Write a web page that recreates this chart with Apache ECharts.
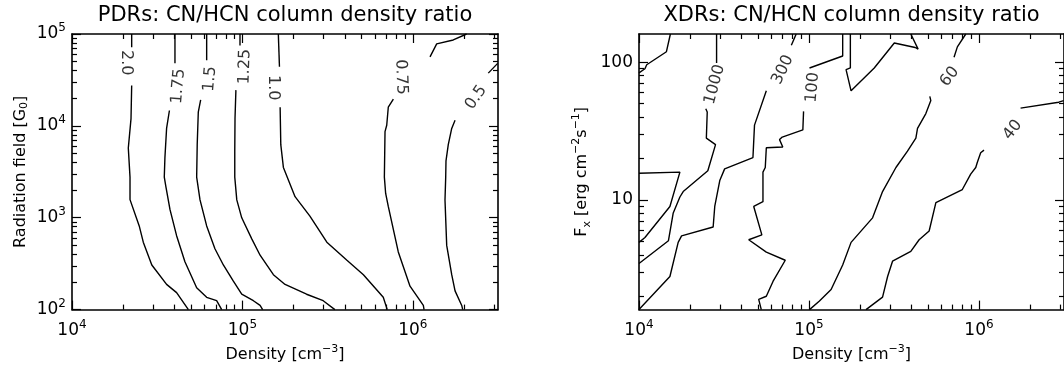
<!DOCTYPE html>
<html><head><meta charset="utf-8">
<script src="https://cdn.jsdelivr.net/npm/echarts@6/dist/echarts.min.js"></script>
<style>html,body{margin:0;padding:0;background:#fff}#c{width:1064px;height:368px}</style>
</head><body><div id="c"></div>
<script>
// ---------------- PDR panel: [density (cm^-3), radiation field (G0)] ----------------
const pdr_2_0_top  = [[22400,100000],[22400,71900]];
const pdr_2_0_bot  = [[22400,27500],[22200,12000],[21400,5750],[21900,2770],[21900,1575],[24800,815],[26200,542],[29400,306],[35900,188],[41100,153],[48200,100]];
const pdr_1_75_top = [[40200,100000],[40200,47900]];
const pdr_1_75_bot = [[37300,14700],[35900,9380],[35100,4510],[34800,2770],[35600,2160],[37600,1225],[41100,638],[46000,332],[53900,173],[61700,136],[70600,125],[75600,100]];
const pdr_1_5_top  = [[61700,100000],[61700,51900]];
const pdr_1_5_bot  = [[56900,19200],[55100,14100],[54300,6240],[53900,2770],[56400,1563],[61700,815],[69000,460],[77300,306],[88500,204],[99100,147],[116000,125],[127000,111],[131500,100]];
const pdr_1_25_top = [[96800,100000],[96800,75000]];
const pdr_1_25_bot = [[91600,24500],[90500,12000],[90200,5310],[90200,2770],[92700,1563],[99100,998],[113500,589],[127000,391],[152000,240],[178000,188],[238000,147],[298000,125],[349000,100]];
const pdr_1_0_top  = [[162500,100000],[165000,44100]];
const pdr_1_0_bot  = [[166500,15950],[168000,6240],[174000,3530],[203700,1695],[249000,1040],[313000,542],[409000,346],[513000,240],[671000,136],[708000,100]];
const pdr_0_75_bot = [[769000,19540],[718000,15950],[703000,10160],[687000,8650],[681000,2770],[693000,1837],[718000,1327],[822000,424],[963000,180],[1055000,141],[1153000,111],[1164000,100]];
const pdr_0_75_top = [[1262000,56300],[1381000,78100],[1728000,86100],[2070000,100000]];
const pdr_0_5_bot  = [[1770000,11500],[1692000,9380],[1615000,6240],[1566000,4160],[1560000,2770],[1545000,1563],[1581000,500],[1692000,240],[1770000,160],[1937000,111],[1963000,100]];
const pdr_0_5_top  = [[2773000,37500],[3148000,47900]];
const pdrLabelText = ['2.0','1.75','1.5','1.25','1.0','0.75','0.5'];
const pdrLabelAt   = [[20750,48600],[42100,27000],[64600,32400],[103500,44100],[151700,26000],[853000,34000],[2350000,20400]];

// ---------------- XDR panel: [density (cm^-3), F_X (erg cm^-2 s^-1)] ----------------
const xdr_a        = [[10000,83.5],[10840,89.6],[11100,95.7],[14500,119],[15300,160]];
const xdr_b        = [[10000,15.6],[17400,15.9],[15200,8.96],[10840,5.34],[10000,4.92]];
const xdr_1000_bot = [[10000,3.46],[14900,5.06],[15900,8.04],[17400,10.5],[18200,11.5],[25400,16.3],[28200,25.2],[24900,28.1],[25200,43.5],[24700,45.9]];
const xdr_1000_top = [[28600,98.4],[28600,160]];
const xdr_300_bot  = [[10000,1.6],[15200,2.78],[17000,4.92],[17800,5.49],[27300,6.36],[27900,8.97],[29900,13.9],[31900,16.8],[46800,20.3],[47800,34.9],[56100,61.9]];
const xdr_300_top  = [[78700,132.7],[84100,160]];
const xdr_100_bot  = [[52400,1.6],[50600,1.90],[56100,2.00],[61400,2.56],[72500,3.65],[56100,4.18],[44200,5.14],[52800,5.58],[47300,8.97],[53600,9.72],[53600,15.9],[55300,17.2],[56100,23.9],[70100,24.2],[67100,27.4],[69600,28.6],[92000,32.2],[92900,43.9]];
const xdr_100_top  = [[100700,90.7],[157800,110.8],[157800,160]];
const xdr_loop     = [[175100,160],[175100,90.7],[165200,88.2],[176800,61.9],[242000,90.7],[317500,137.7],[421400,127.7],[438500,124.2],[397000,160]];
const xdr_60_bot   = [[100700,1.6],[115200,1.85],[134900,2.24],[157800,3.37],[176800,4.92],[236600,7.41],[270800,11.5],[324600,17.2],[379600,22.6],[425300,28.1],[434800,33.1],[486800,42.3],[520700,52.6],[513500,56.4]];
const xdr_60_top   = [[713000,108.5],[746000,129],[836000,160]];
const xdr_40_bot   = [[216500,1.6],[270800,1.97],[290000,2.78],[310000,3.59],[397000,4.23],[444500,5.14],[509000,5.95],[557600,9.57],[798000,11.9],[893500,15.4],[957000,17.2],[977000,18.7],[1023000,22.0],[1070000,23.0]];
const xdr_40_top   = [[1756000,46.4],[2944000,51.2],[3150000,52.6]];
const xdrLabelText = ['1000','300','100','60','40'];
const xdrLabelAt   = [[27900,68.9],[70100,88],[105200,65.4],[673000,78.3],[1581000,32.2]];

// axis ranges / ticks
const densityRange = [1e4, 3162278];
const densityMajor = [1e4, 1e5, 1e6];
const g0Range = [100, 1e5];
const g0Major = [1e2, 1e3, 1e4, 1e5];
const fxRange = [1.6, 160];
const fxMajor = [10, 100];

// label rotations (style)
const pdrLabelRot = [-90, 85, 85, 88, -90, -88, 55];
const xdrLabelRot = [75, 65, 85, 52, 52];

function minorTicks(lo, hi) {
  const out = [];
  for (let e = Math.floor(Math.log10(lo)); e <= Math.ceil(Math.log10(hi)); e++) {
    for (let k = 2; k <= 9; k++) { const v = k * Math.pow(10, e); if (v > lo && v < hi) out.push(v); }
  }
  return out;
}

const FONT = 'DejaVu Sans';
const BLACK = '#000';
const rich = {
  sup: { fontSize: 12, fontFamily: FONT, color: BLACK, verticalAlign: 'top', lineHeight: 24 },
  sub: { fontSize: 12, fontFamily: FONT, color: BLACK, verticalAlign: 'bottom', lineHeight: 19 }
};
const richName = {
  sup: { fontSize: 11, fontFamily: FONT, color: BLACK, verticalAlign: 'top', lineHeight: 22 },
  sub: { fontSize: 11, fontFamily: FONT, color: BLACK, verticalAlign: 'bottom', lineHeight: 18 }
};
function powLabel(v) { return '10{sup|' + Math.round(Math.log10(v)) + '}'; }

function axis(kind, grid, pos, range, ticks, major, opts) {
  opts = opts || {};
  return Object.assign({
    type: 'log', logBase: 10, gridIndex: grid, position: pos,
    min: range[0], max: range[1],
    axisLine: { show: major, lineStyle: { color: BLACK, width: 1.6 } },
    axisTick: { show: true, inside: true, length: major ? 9 : 5, customValues: ticks,
                lineStyle: { color: BLACK, width: 1.2 } },
    axisLabel: { show: false },
    splitLine: { show: false }, minorTick: { show: false }
  }, opts);
}
function labelOpt(values, fmt, margin) {
  return { show: true, customValues: values, formatter: fmt, margin: margin,
           fontFamily: FONT, fontSize: 17, color: BLACK, rich: rich };
}
const nameStyle = { fontFamily: FONT, fontSize: 16, color: BLACK, rich: richName };
const titleStyle = { fontFamily: FONT, fontSize: 21, color: BLACK };

const xAxes = [], yAxes = [];
// grid 0 (PDR)
xAxes.push(axis('x', 0, 'bottom', densityRange, densityMajor, true, {
  axisLabel: labelOpt(densityMajor, powLabel, 9),
  name: 'Density [cm{sup|−3}]', nameLocation: 'middle', nameGap: 28, nameTextStyle: nameStyle }));
xAxes.push(axis('x', 0, 'bottom', densityRange, minorTicks(densityRange[0], densityRange[1]), false));
xAxes.push(axis('x', 0, 'top', densityRange, densityMajor, true, {
  name: 'PDRs: CN/HCN column density ratio', nameLocation: 'middle', nameGap: 8, nameTextStyle: titleStyle }));
xAxes.push(axis('x', 0, 'top', densityRange, minorTicks(densityRange[0], densityRange[1]), false));
yAxes.push(axis('y', 0, 'left', g0Range, g0Major, true, {
  axisLabel: labelOpt(g0Major, powLabel, 6),
  name: 'Radiation field [G{sub|0}]', nameLocation: 'middle', nameGap: 42, nameTextStyle: nameStyle }));
yAxes.push(axis('y', 0, 'left', g0Range, minorTicks(g0Range[0], g0Range[1]), false));
yAxes.push(axis('y', 0, 'right', g0Range, g0Major, true));
yAxes.push(axis('y', 0, 'right', g0Range, minorTicks(g0Range[0], g0Range[1]), false));
// grid 1 (XDR)
xAxes.push(axis('x', 1, 'bottom', densityRange, densityMajor, true, {
  axisLabel: labelOpt(densityMajor, powLabel, 9),
  name: 'Density [cm{sup|−3}]', nameLocation: 'middle', nameGap: 28, nameTextStyle: nameStyle }));
xAxes.push(axis('x', 1, 'bottom', densityRange, minorTicks(densityRange[0], densityRange[1]), false));
xAxes.push(axis('x', 1, 'top', densityRange, densityMajor, true, {
  name: 'XDRs: CN/HCN column density ratio', nameLocation: 'middle', nameGap: 8, nameTextStyle: titleStyle }));
xAxes.push(axis('x', 1, 'top', densityRange, minorTicks(densityRange[0], densityRange[1]), false));
yAxes.push(axis('y', 1, 'left', fxRange, fxMajor, true, {
  axisLabel: labelOpt(fxMajor, v => String(Math.round(v)), 6),
  name: 'F{sub|x} [erg cm{sup|−2}s{sup|−1}]', nameLocation: 'middle', nameGap: 46, nameTextStyle: nameStyle }));
yAxes.push(axis('y', 1, 'left', fxRange, minorTicks(fxRange[0], fxRange[1]), false));
yAxes.push(axis('y', 1, 'right', fxRange, fxMajor, true));
yAxes.push(axis('y', 1, 'right', fxRange, minorTicks(fxRange[0], fxRange[1]), false));

const series = [];
function addLine(data, grid) {
  series.push({ type: 'line', xAxisIndex: grid * 4, yAxisIndex: grid * 4, data: data,
    symbol: 'none', showSymbol: false, silent: true, animation: false, clip: true,
    lineStyle: { color: BLACK, width: 1.4 } });
}
[pdr_2_0_top, pdr_2_0_bot, pdr_1_75_top, pdr_1_75_bot, pdr_1_5_top, pdr_1_5_bot,
 pdr_1_25_top, pdr_1_25_bot, pdr_1_0_top, pdr_1_0_bot, pdr_0_75_bot, pdr_0_75_top,
 pdr_0_5_bot, pdr_0_5_top].forEach(d => addLine(d, 0));
[xdr_a, xdr_b, xdr_1000_bot, xdr_1000_top, xdr_300_bot, xdr_300_top, xdr_100_bot,
 xdr_100_top, xdr_loop, xdr_60_bot, xdr_60_top, xdr_40_bot, xdr_40_top].forEach(d => addLine(d, 1));

function addLabels(texts, at, rots, grid) {
  series.push({ type: 'scatter', xAxisIndex: grid * 4, yAxisIndex: grid * 4, animation: false, silent: true,
    symbolSize: 1, itemStyle: { color: 'rgba(0,0,0,0)' },
    data: texts.map((t, i) => ({ value: at[i], name: t,
      label: { show: true, position: 'inside', formatter: t, rotate: rots[i],
               fontFamily: FONT, fontSize: 16, color: BLACK } })) });
}
addLabels(pdrLabelText, pdrLabelAt, pdrLabelRot, 0);
addLabels(xdrLabelText, xdrLabelAt, xdrLabelRot, 1);

const chart = echarts.init(document.getElementById('c'), null, { renderer: 'canvas' });
chart.setOption({
  animation: false,
  backgroundColor: '#fff',
  grid: [
    { left: 72, top: 33, width: 426, height: 283 },
    { left: 639, top: 33, width: 426, height: 283 }
  ],
  xAxis: xAxes, yAxis: yAxes, series: series
});
</script></body></html>
